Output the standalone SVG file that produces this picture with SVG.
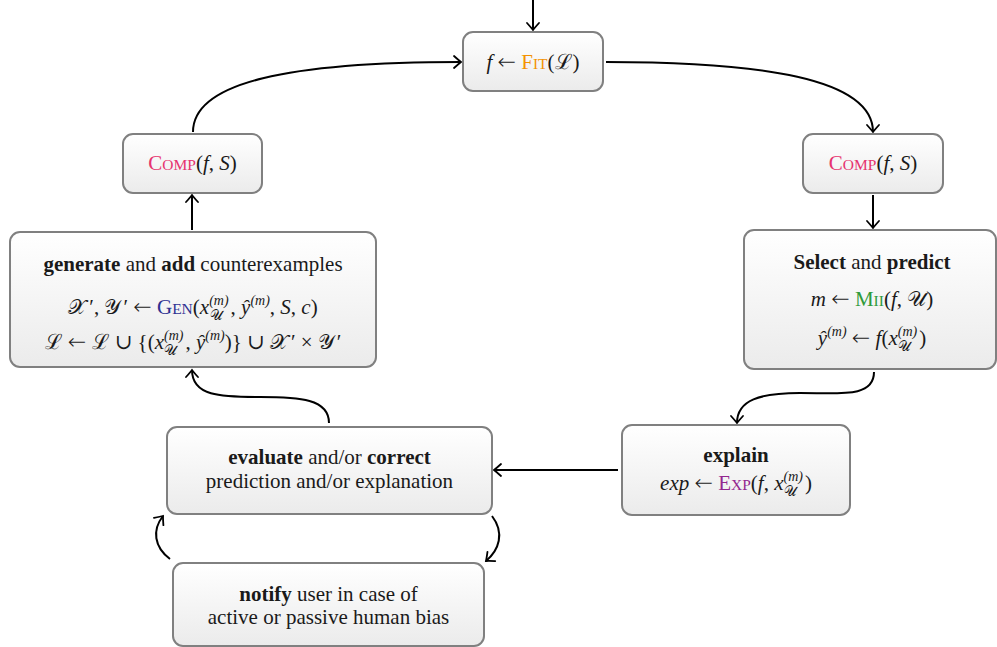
<svg xmlns="http://www.w3.org/2000/svg" width="997" height="647" viewBox="0 0 997 647">
  <defs>
    <linearGradient id="boxFill" x1="0" y1="0" x2="0" y2="1">
      <stop offset="0" stop-color="#ffffff"/>
      <stop offset="1" stop-color="#ebebeb"/>
    </linearGradient>
    <marker id="tip" viewBox="-10 -8 12 16" markerWidth="12" markerHeight="16" refX="0" refY="0" orient="auto" markerUnits="userSpaceOnUse">
      <path d="M-7,-6 Q-2,-1.5 0,0 Q-2,1.5 -7,6" fill="none" stroke="#000" stroke-width="1.8" stroke-linecap="round"/>
    </marker>
  </defs>
  <style>
    .box { fill: url(#boxFill); stroke: #808080; stroke-width: 2; }
    .t { font-family: "Liberation Serif", "DejaVu Serif", serif; font-size: 21px; fill: #1a1a1a; text-anchor: middle; }
    .b { font-weight: bold; }
    .i { font-style: italic; }
    .sc { font-size: 15.5px; }
    .s { font-size: 14px; }
    .ar { font-family: "DejaVu Sans", sans-serif; font-size: 22px; font-weight: 200; }
    .fit { fill: #f39200; }
    .comp { fill: #e6336f; }
    .gen { fill: #2e3192; }
    .mii { fill: #2f9a3a; }
    .exp { fill: #93278f; }
    .edge { fill: none; stroke: #000; stroke-width: 2; marker-end: url(#tip); }
  </style>

  <!-- connectors -->
  <g id="connectors">
    <path class="edge" d="M533,0 L533,30"/>
    <path class="edge" d="M193,132 C193,82 290,62 461,62"/>
    <path class="edge" d="M606,62 C760,62 873,78 873,132"/>
    <path class="edge" d="M873,195 L873,228"/>
    <path class="edge" d="M874,372 C874,398 840,393 800,393 C760,393 737,400 737,423"/>
    <path class="edge" d="M618,470 L494,470"/>
    <path class="edge" d="M329,423 C329,399 300,397 260,397 C220,397 192,396 192,370"/>
    <path class="edge" d="M192,230 L192,195"/>
    <path class="edge" d="M492,516 C505,533 499,550 486,561"/>
    <path class="edge" d="M170,559 C154,547 152,530 163,516"/>
  </g>

  <!-- f <- Fit(L) -->
  <g id="fit">
    <rect class="box" x="463" y="32" width="140" height="59" rx="10"/>
    <text class="t" x="533" y="69"><tspan class="i">f</tspan> <tspan class="ar">←</tspan> <tspan class="fit">F<tspan class="sc">IT</tspan></tspan>(ℒ)</text>
  </g>

  <!-- Comp(f,S), left -->
  <g id="comp-left">
    <rect class="box" x="123" y="134" width="139" height="59" rx="10"/>
    <text class="t" x="192.5" y="170"><tspan class="comp">C<tspan class="sc">OMP</tspan></tspan>(<tspan class="i">f</tspan>, <tspan class="i">S</tspan>)</text>
  </g>

  <!-- Comp(f,S), right -->
  <g id="comp-right">
    <rect class="box" x="803" y="134" width="140" height="59" rx="10"/>
    <text class="t" x="873" y="170"><tspan class="comp">C<tspan class="sc">OMP</tspan></tspan>(<tspan class="i">f</tspan>, <tspan class="i">S</tspan>)</text>
  </g>

  <!-- generate and add counterexamples -->
  <g id="generate">
    <rect class="box" x="10" y="232" width="366" height="135" rx="10"/>
    <text class="t" x="193" y="271"><tspan class="b">generate</tspan> and <tspan class="b">add</tspan> counterexamples</text>
    <text class="t" x="193" y="314">𝒳<tspan dx="3">′</tspan>, 𝒴<tspan dx="3">′</tspan> <tspan class="ar">←</tspan> <tspan class="gen">G<tspan class="sc">EN</tspan></tspan>(<tspan class="i">x</tspan><tspan class="s i" dy="-9">(m)</tspan><tspan class="s" dx="-19" dy="15">𝒰</tspan><tspan dx="8" dy="-6">, </tspan><tspan class="i">ŷ</tspan><tspan class="s i" dy="-9">(m)</tspan><tspan dy="9">, </tspan><tspan class="i">S</tspan>, <tspan class="i">c</tspan>)</text>
    <text class="t" x="193" y="349">ℒ <tspan class="ar">←</tspan> ℒ ∪ {(<tspan class="i">x</tspan><tspan class="s i" dy="-9">(m)</tspan><tspan class="s" dx="-19" dy="15">𝒰</tspan><tspan dx="8" dy="-6">, </tspan><tspan class="i">ŷ</tspan><tspan class="s i" dy="-9">(m)</tspan><tspan dy="9">)} ∪ 𝒳</tspan><tspan dx="3">′</tspan> × 𝒴<tspan dx="3">′</tspan></text>
  </g>

  <!-- Select and predict -->
  <g id="select">
    <rect class="box" x="744" y="230" width="252" height="139" rx="10"/>
    <text class="t" x="872" y="269"><tspan class="b">Select</tspan> and <tspan class="b">predict</tspan></text>
    <text class="t" x="872" y="306"><tspan class="i">m</tspan> <tspan class="ar">←</tspan> <tspan class="mii">M<tspan class="sc">II</tspan></tspan>(<tspan class="i">f</tspan>, 𝒰)</text>
    <text class="t" x="872" y="345"><tspan class="i">ŷ</tspan><tspan class="s i" dy="-9">(m)</tspan><tspan dy="9"> </tspan><tspan class="ar">←</tspan> <tspan class="i">f</tspan>(<tspan class="i">x</tspan><tspan class="s i" dy="-9">(m)</tspan><tspan class="s" dx="-19" dy="15">𝒰</tspan><tspan dx="8" dy="-6">)</tspan></text>
  </g>

  <!-- explain -->
  <g id="explain">
    <rect class="box" x="622" y="425" width="228" height="90" rx="10"/>
    <text class="t b" x="736" y="462">explain</text>
    <text class="t" x="736" y="490"><tspan class="i">exp</tspan> <tspan class="ar">←</tspan> <tspan class="exp">E<tspan class="sc">XP</tspan></tspan>(<tspan class="i">f</tspan>, <tspan class="i">x</tspan><tspan class="s i" dy="-9">(m)</tspan><tspan class="s" dx="-19" dy="15">𝒰</tspan><tspan dx="8" dy="-6">)</tspan></text>
  </g>

  <!-- evaluate and/or correct -->
  <g id="evaluate">
    <rect class="box" x="167" y="427" width="325" height="87" rx="10"/>
    <text class="t" x="329.5" y="464"><tspan class="b">evaluate</tspan> and/or <tspan class="b">correct</tspan></text>
    <text class="t" x="329.5" y="488">prediction and/or explanation</text>
  </g>

  <!-- notify user -->
  <g id="notify">
    <rect class="box" x="173" y="563" width="311" height="83" rx="10"/>
    <text class="t" x="328.5" y="601"><tspan class="b">notify</tspan> user in case of</text>
    <text class="t" x="328.5" y="624">active or passive human bias</text>
  </g>
</svg>
